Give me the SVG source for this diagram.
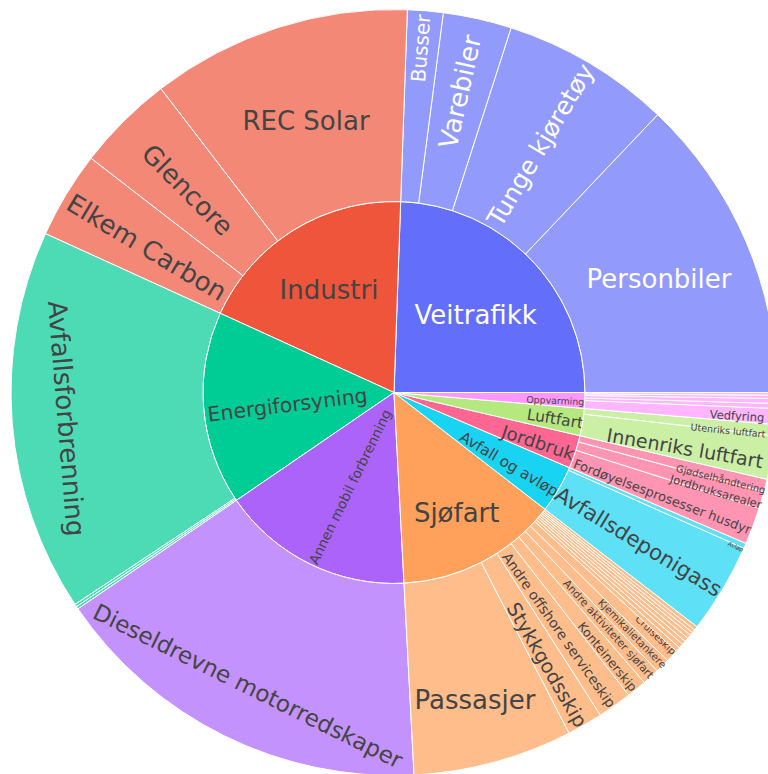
<svg xmlns="http://www.w3.org/2000/svg" width="768" height="774" viewBox="0 0 768 774">
<style>
path{stroke:#fff;stroke-width:1}
text{font-family:"DejaVu Sans",Verdana,sans-serif;text-anchor:middle;dominant-baseline:central}
.d{fill:#444}.w{fill:#fff}
.vP{fill:#636efa}.vC{fill:#929afc}
.iP{fill:#ef553b}.iC{fill:#f48876}
.eP{fill:#00cc96}.eC{fill:#4ddbb6}
.aP{fill:#ab63fa}.aC{fill:#c492fc}
.sP{fill:#ffa15a}.sC{fill:#ffbd8c}
.fP{fill:#19d3f3}.fC{fill:#5ee0f7}
.jP{fill:#ff6692}.jC{fill:#ff94b3}
.lP{fill:#b6e880}.lC{fill:#ccefa6}
.oP{fill:#ff97ff}.oC{fill:#ffb6ff}
</style>
<rect width="768" height="774" fill="#fff"/>
<g id="Veitrafikk">
<path class="vP" d="M394,392.5 L585,392.5 A191,191 0 0 0 400.67,201.62 Z"/>
<text class="w" x="475.7" y="315" font-size="26">Veitrafikk</text>
</g>
<g id="Personbiler">
<path class="vC" d="M585,392.5 L777,392.5 A383,383 0 0 0 657.64,114.68 L525.47,253.95 A191,191 0 0 1 585,392.5 Z"/>
<text class="w" x="659" y="279" font-size="26">Personbiler</text>
</g>
<g id="Tunge_kjoretoy">
<path class="vC" d="M525.47,253.95 L657.64,114.68 A383,383 0 0 0 511.08,27.83 L452.39,210.64 A191,191 0 0 1 525.47,253.95 Z"/>
<text class="w" x="540.7" y="145" font-size="25" transform="rotate(-59.3 540.7 145)">Tunge kjøretøy</text>
</g>
<g id="Varebiler">
<path class="vC" d="M452.39,210.64 L511.08,27.83 A383,383 0 0 0 443.33,12.69 L418.6,203.09 A191,191 0 0 1 452.39,210.64 Z"/>
<text class="w" x="460" y="91.7" font-size="26" transform="rotate(-77.4 460 91.7)">Varebiler</text>
</g>
<g id="Busser">
<path class="vC" d="M418.6,203.09 L443.33,12.69 A383,383 0 0 0 407.37,9.73 L400.67,201.62 A191,191 0 0 1 418.6,203.09 Z"/>
<text class="w" x="420.7" y="48.3" font-size="20" transform="rotate(-85.3 420.7 48.3)">Busser</text>
</g>
<g id="Industri">
<path class="iP" d="M394,392.5 L400.67,201.62 A191,191 0 0 0 220.2,313.29 Z"/>
<text class="d" x="329" y="289.5" font-size="26">Industri</text>
</g>
<g id="REC_Solar">
<path class="iC" d="M400.67,201.62 L407.37,9.73 A383,383 0 0 0 160.84,88.65 L277.73,240.97 A191,191 0 0 1 400.67,201.62 Z"/>
<text class="d" x="306" y="121" font-size="26">REC Solar</text>
</g>
<g id="Glencore">
<path class="iC" d="M277.73,240.97 L160.84,88.65 A383,383 0 0 0 90.96,158.28 L242.88,275.7 A191,191 0 0 1 277.73,240.97 Z"/>
<text class="d" x="187.5" y="190" font-size="26" transform="rotate(45 187.5 190)">Glencore</text>
</g>
<g id="Elkem_Carbon">
<path class="iC" d="M242.88,275.7 L90.96,158.28 A383,383 0 0 0 45.49,233.67 L220.2,313.29 A191,191 0 0 1 242.88,275.7 Z"/>
<text class="d" x="146.7" y="247.5" font-size="26" transform="rotate(31 146.7 247.5)">Elkem Carbon</text>
</g>
<g id="Energiforsyning">
<path class="eP" d="M394,392.5 L220.2,313.29 A191,191 0 0 0 236.4,500.41 Z"/>
<text class="d" x="287.5" y="405" font-size="20.5" transform="rotate(-7 287.5 405)">Energiforsyning</text>
</g>
<g id="Avfallsforbrenning">
<path class="eC" d="M220.2,313.29 L45.49,233.67 A383,383 0 0 0 75.03,604.45 L234.93,498.2 A191,191 0 0 1 220.2,313.29 Z"/>
<text class="d" x="66.5" y="418.5" font-size="26" transform="rotate(85.4 66.5 418.5)">Avfallsforbrenning</text>
</g>
<g id="Energi_small">
<path class="eC" d="M234.93,498.2 L75.03,604.45 A383,383 0 0 0 76.48,606.67 L235.65,499.31 A191,191 0 0 1 234.93,498.2 Z"/>
<path class="eC" d="M235.65,499.31 L76.48,606.67 A383,383 0 0 0 77.98,608.88 L236.4,500.41 A191,191 0 0 1 235.65,499.31 Z"/>
</g>
<g id="Annen_mobil_forbrenning">
<path class="aP" d="M394,392.5 L236.4,500.41 A191,191 0 0 0 404,583.24 Z"/>
<text class="d" x="350" y="486.7" font-size="13.7" transform="rotate(-64 350 486.7)">Annen mobil forbrenning</text>
</g>
<g id="Dieseldrevne_motorredskaper">
<path class="aC" d="M236.4,500.41 L77.98,608.88 A383,383 0 0 0 414.05,774.98 L404,583.24 A191,191 0 0 1 236.4,500.41 Z"/>
<text class="d" x="248" y="686" font-size="23" transform="rotate(26.3 248 686)">Dieseldrevne motorredskaper</text>
</g>
<g id="Sjofart">
<path class="sP" d="M394,392.5 L404,583.24 A191,191 0 0 0 545.12,509.3 Z"/>
<text class="d" x="456.7" y="513.3" font-size="26">Sjøfart</text>
</g>
<g id="Passasjer">
<path class="sC" d="M404,583.24 L414.05,774.98 A383,383 0 0 0 569.05,733.16 L481.29,562.38 A191,191 0 0 1 404,583.24 Z"/>
<text class="d" x="475" y="700" font-size="26">Passasjer</text>
</g>
<g id="Stykkgodsskip">
<path class="sC" d="M481.29,562.38 L569.05,733.16 A383,383 0 0 0 600.4,715.13 L496.93,553.39 A191,191 0 0 1 481.29,562.38 Z"/>
<text class="d" x="546.7" y="665" font-size="19.5" transform="rotate(60 546.7 665)">Stykkgodsskip</text>
</g>
<g id="Andre_offshore_serviceskip">
<path class="sC" d="M496.93,553.39 L600.4,715.13 A383,383 0 0 0 628.74,695.13 L511.07,543.42 A191,191 0 0 1 496.93,553.39 Z"/>
<text class="d" x="559" y="630" font-size="14" transform="rotate(54.8 559 630)">Andre offshore serviceskip</text>
</g>
<g id="Konteinerskip">
<path class="sC" d="M511.07,543.42 L628.74,695.13 A383,383 0 0 0 644.26,682.43 L518.8,537.09 A191,191 0 0 1 511.07,543.42 Z"/>
<text class="d" x="607.5" y="656.7" font-size="12.5" transform="rotate(50.7 607.5 656.7)">Konteinerskip</text>
</g>
<g id="Andre_aktiviteter_sjofart">
<path class="sC" d="M518.8,537.09 L644.26,682.43 A383,383 0 0 0 657.16,670.78 L525.23,531.27 A191,191 0 0 1 518.8,537.09 Z"/>
<text class="d" x="608.3" y="629.2" font-size="10.8" transform="rotate(47.9 608.3 629.2)">Andre aktiviteter sjøfart</text>
</g>
<g id="Kjemikalietankere">
<path class="sC" d="M525.23,531.27 L657.16,670.78 A383,383 0 0 0 667.64,660.47 L530.46,526.14 A191,191 0 0 1 525.23,531.27 Z"/>
<text class="d" x="632.5" y="633.3" font-size="10.3" transform="rotate(45.5 632.5 633.3)">Kjemikalietankere</text>
</g>
<g id="Cruiseskip">
<path class="sC" d="M530.46,526.14 L667.64,660.47 A383,383 0 0 0 676.38,651.25 L534.82,521.54 A191,191 0 0 1 530.46,526.14 Z"/>
<text class="d" x="655.8" y="635" font-size="10" transform="rotate(43.4 655.8 635)">Cruiseskip</text>
</g>
<g id="Sjofart_small">
<path class="sC" d="M534.82,521.54 L676.38,651.25 A383,383 0 0 0 679.52,647.78 L536.39,519.81 A191,191 0 0 1 534.82,521.54 Z"/>
<path class="sC" d="M536.39,519.81 L679.52,647.78 A383,383 0 0 0 682.61,644.28 L537.93,518.06 A191,191 0 0 1 536.39,519.81 Z"/>
<path class="sC" d="M537.93,518.06 L682.61,644.28 A383,383 0 0 0 685.24,641.24 L539.24,516.54 A191,191 0 0 1 537.93,518.06 Z"/>
<path class="sC" d="M539.24,516.54 L685.24,641.24 A383,383 0 0 0 687.83,638.18 L540.53,515.02 A191,191 0 0 1 539.24,516.54 Z"/>
<path class="sC" d="M540.53,515.02 L687.83,638.18 A383,383 0 0 0 690.38,635.08 L541.8,513.48 A191,191 0 0 1 540.53,515.02 Z"/>
<path class="sC" d="M541.8,513.48 L690.38,635.08 A383,383 0 0 0 692.49,632.49 L542.85,512.18 A191,191 0 0 1 541.8,513.48 Z"/>
<path class="sC" d="M542.85,512.18 L692.49,632.49 A383,383 0 0 0 694.57,629.88 L543.89,510.88 A191,191 0 0 1 542.85,512.18 Z"/>
<path class="sC" d="M543.89,510.88 L694.57,629.88 A383,383 0 0 0 697.04,626.72 L545.12,509.3 A191,191 0 0 1 543.89,510.88 Z"/>
</g>
<g id="Avfall_og_avlop">
<path class="fP" d="M394,392.5 L545.12,509.3 A191,191 0 0 0 569.56,467.74 Z"/>
<text class="d" x="509" y="464.2" font-size="15.2" transform="rotate(30.7 509 464.2)">Avfall og avløp</text>
</g>
<g id="Avfallsdeponigass">
<path class="fC" d="M545.12,509.3 L697.04,626.72 A383,383 0 0 0 743.89,548.28 L568.49,470.19 A191,191 0 0 1 545.12,509.3 Z"/>
<text class="d" x="638.7" y="541.7" font-size="21.3" transform="rotate(31.3 638.7 541.7)">Avfallsdeponigass</text>
</g>
<g id="Avlop">
<path class="fC" d="M568.49,470.19 L743.89,548.28 A383,383 0 0 0 746.03,543.38 L569.56,467.74 A191,191 0 0 1 568.49,470.19 Z"/>
<text class="d" x="735.8" y="546.3" font-size="6" transform="rotate(23.6 735.8 546.3)">Avløp</text>
</g>
<g id="Jordbruk">
<path class="jP" d="M394,392.5 L569.56,467.74 A191,191 0 0 0 580.03,435.79 Z"/>
<text class="d" x="538.2" y="442.5" font-size="18" transform="rotate(18.2 538.2 442.5)">Jordbruk</text>
</g>
<g id="Fordoyelsesprosesser_husdyr">
<path class="jC" d="M569.56,467.74 L746.03,543.38 A383,383 0 0 0 759.07,508.31 L576.06,450.25 A191,191 0 0 1 569.56,467.74 Z"/>
<text class="d" x="662.3" y="496.7" font-size="13" transform="rotate(20.8 662.3 496.7)">Fordøyelsesprosesser husdyr</text>
</g>
<g id="Jordbruksarealer">
<path class="jC" d="M576.06,450.25 L759.07,508.31 A383,383 0 0 0 763.95,491.63 L578.49,441.93 A191,191 0 0 1 576.06,450.25 Z"/>
<text class="d" x="715.8" y="491.7" font-size="11.5" transform="rotate(16.3 715.8 491.7)">Jordbruksarealer</text>
</g>
<g id="Gjodselhandtering">
<path class="jC" d="M578.49,441.93 L763.95,491.63 A383,383 0 0 0 767.03,479.31 L580.03,435.79 A191,191 0 0 1 578.49,441.93 Z"/>
<text class="d" x="720.8" y="479.2" font-size="10" transform="rotate(14.1 720.8 479.2)">Gjødselhåndtering</text>
</g>
<g id="Luftfart">
<path class="lP" d="M394,392.5 L580.03,435.79 A191,191 0 0 0 584.33,408.48 Z"/>
<text class="d" x="555" y="419" font-size="15.5" transform="rotate(9 555 419)">Luftfart</text>
</g>
<g id="Innenriks_luftfart">
<path class="lC" d="M580.03,435.79 L767.03,479.31 A383,383 0 0 0 774.54,435.86 L583.77,414.12 A191,191 0 0 1 580.03,435.79 Z"/>
<text class="d" x="685" y="448" font-size="19" transform="rotate(9.8 685 448)">Innenriks luftfart</text>
</g>
<g id="Utenriks_luftfart">
<path class="lC" d="M583.77,414.12 L774.54,435.86 A383,383 0 0 0 775.66,424.55 L584.33,408.48 A191,191 0 0 1 583.77,414.12 Z"/>
<text class="d" x="728" y="430.5" font-size="9.5" transform="rotate(5.6 728 430.5)">Utenriks luftfart</text>
</g>
<g id="Oppvarming">
<path class="oP" d="M394,392.5 L584.33,408.48 A191,191 0 0 0 585,392.5 Z"/>
<text class="d" x="555.3" y="400.5" font-size="9.4" transform="rotate(2.4 555.3 400.5)">Oppvarming</text>
</g>
<g id="Vedfyring">
<path class="oC" d="M584.33,408.48 L775.66,424.55 A383,383 0 0 0 776.66,408.54 L584.83,400.5 A191,191 0 0 1 584.33,408.48 Z"/>
<text class="d" x="737" y="416" font-size="11.5" transform="rotate(3.6 737 416)">Vedfyring</text>
</g>
<g id="Oppvarming_small">
<path class="oC" d="M584.83,400.5 L776.66,408.54 A383,383 0 0 0 776.84,403.53 L584.92,398 A191,191 0 0 1 584.83,400.5 Z"/>
<path class="oC" d="M584.92,398 L776.84,403.53 A383,383 0 0 0 776.95,398.52 L584.98,395.5 A191,191 0 0 1 584.92,398 Z"/>
<path class="oC" d="M584.98,395.5 L776.95,398.52 A383,383 0 0 0 776.99,395.17 L585,393.83 A191,191 0 0 1 584.98,395.5 Z"/>
<path class="oC" d="M585,393.83 L776.99,395.17 A383,383 0 0 0 777,392.5 L585,392.5 A191,191 0 0 1 585,393.83 Z"/>
</g>
</svg>
